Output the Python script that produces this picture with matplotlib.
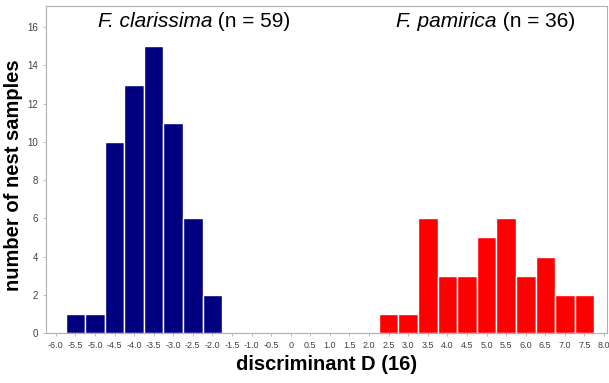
import matplotlib
matplotlib.use("Agg")
import matplotlib.pyplot as plt
import numpy as np

# histogram counts
clar_x = [-5.5, -5.0, -4.5, -4.0, -3.5, -3.0, -2.5, -2.0]
clar_n = [1, 1, 10, 13, 15, 11, 6, 2]
pam_x = [2.5, 3.0, 3.5, 4.0, 4.5, 5.0, 5.5, 6.0, 6.5, 7.0, 7.5]
pam_n = [1, 1, 6, 3, 3, 5, 6, 3, 4, 2, 2]

xticks = np.arange(-6.0, 8.01, 0.5)
xtick_labels = ["0" if abs(t) < 1e-9 else "%.1f" % t for t in xticks]
yticks = [0, 2, 4, 6, 8, 10, 12, 14, 16]

plt.rcParams['font.family'] = ['Liberation Sans', 'DejaVu Sans']
plt.rcParams['axes.unicode_minus'] = False

fig = plt.figure(figsize=(6.09, 3.83), dpi=100)
ax = fig.add_axes([0.0755, 0.1305, 0.9215, 0.8535])

ax.bar(clar_x, clar_n, width=0.5, color='#000080', edgecolor='white', linewidth=1.0)
ax.bar(pam_x, pam_n, width=0.5, color='#ff0000', edgecolor='white', linewidth=1.0)

ax.set_xlim(-6.25, 8.08)
ax.set_ylim(0, 17.1)
ax.set_xticks(xticks)
ax.set_xticklabels(xtick_labels)
ax.set_yticks(yticks)

for s in ax.spines.values():
    s.set_color('#b0b0b0')
    s.set_linewidth(0.8)
ax.tick_params(axis='both', colors='#b0b0b0', labelcolor='#404040',
               length=2.5, width=0.6, pad=3)
ax.tick_params(axis='x', labelsize=6.5)
ax.tick_params(axis='y', labelsize=7)

ax.set_xlabel("discriminant D (16)", fontsize=14.5, fontweight='bold', labelpad=4)
ax.set_ylabel("number of nest samples", fontsize=14.5, fontweight='bold')
ax.yaxis.set_label_coords(-0.041, 0.483)

# group labels: italic name followed by upright count
t1 = ax.text(-4.93, 16.3, "F. clarissima", fontsize=15, fontstyle='italic', ha='left', va='center')
ax.annotate(" (n = 59)", xy=(1, 0.5), xycoords=t1, fontsize=15, ha='left', va='center')
t2 = ax.text(2.70, 16.3, "F. pamirica", fontsize=15, fontstyle='italic', ha='left', va='center')
ax.annotate(" (n = 36)", xy=(1, 0.5), xycoords=t2, fontsize=15, ha='left', va='center')

fig.savefig("out.png", dpi=100)
